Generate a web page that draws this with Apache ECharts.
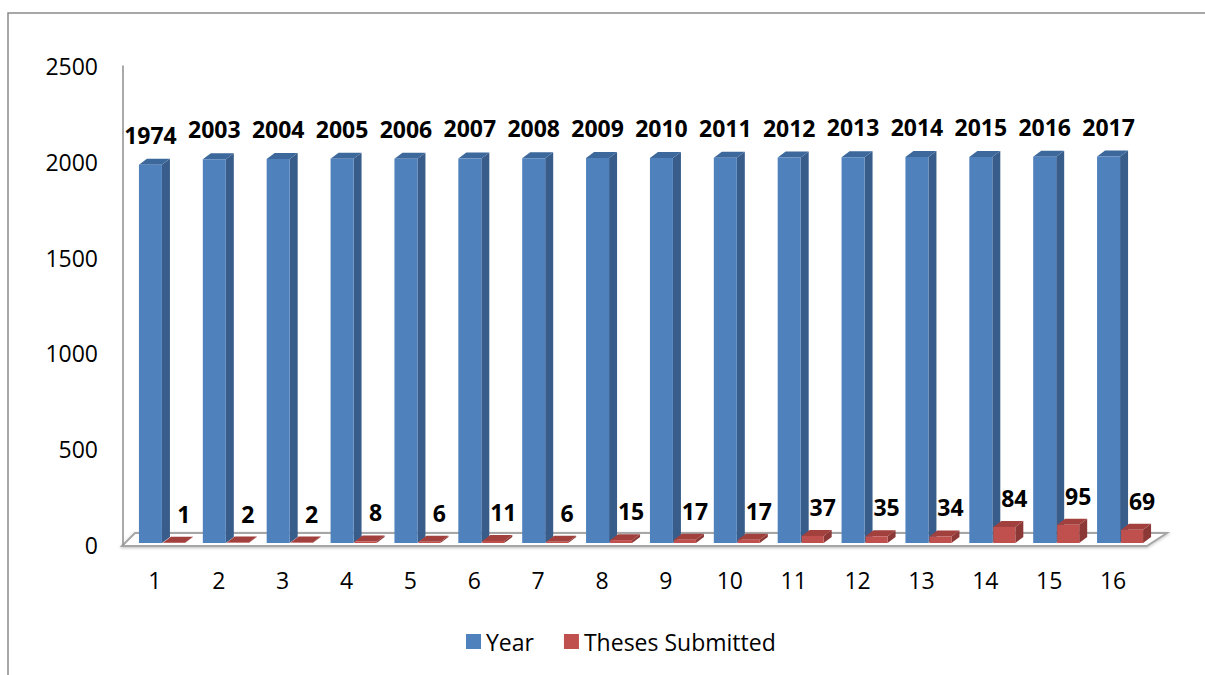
<!DOCTYPE html>
<html>
<head>
<meta charset="utf-8">
<script src="https://cdn.jsdelivr.net/npm/echarts@6/dist/echarts.min.js"></script>
<style>
html,body{margin:0;padding:0;background:#fff;}
#c{width:1205px;height:675px;}
</style>
</head>
<body>
<div id="c"></div>
<script>
const categories = ['1','2','3','4','5','6','7','8','9','10','11','12','13','14','15','16'];
const yearValues = [1974,2003,2004,2005,2006,2007,2008,2009,2010,2011,2012,2013,2014,2015,2016,2017];
const thesesValues = [1,2,2,8,6,11,6,15,17,17,37,35,34,84,95,69];
const yMin = 0, yMax = 2500, yStep = 500;

const FONT = "'Open Sans', 'Noto Sans', sans-serif";

function bar3d(front, side, top, offX, w, labelDx, labelGap) {
  return function (params, api) {
    const idx = api.value(0), v = api.value(1);
    const base = api.coord([idx, 0]);
    const tp = api.coord([idx, v]);
    const cx = base[0];
    const lift = 2;
    const xl = cx + offX, xr = xl + w;
    const yb = base[1] - lift, yt = tp[1] - lift;
    const dx = 8, dy = 6;
    return {
      type: 'group',
      children: [
        { type: 'polygon', shape: { points: [[xr, yb], [xr + dx, yb - dy], [xr + dx, yt - dy], [xr, yt]] }, style: { fill: side } },
        { type: 'polygon', shape: { points: [[xl, yt], [xl + dx, yt - dy], [xr + dx, yt - dy], [xr, yt]] }, style: { fill: top } },
        { type: 'rect', shape: { x: xl, y: yt, width: w, height: Math.max(yb - yt, 0) }, style: { fill: front } },
        { type: 'text', x: (xl + xr) / 2 + labelDx, y: yt - dy - labelGap,
          style: { text: String(v), fontSize: 23, fontWeight: 'bold', fontFamily: FONT, fill: '#000', align: 'center', verticalAlign: 'middle' } }
      ]
    };
  };
}

const chart = echarts.init(document.getElementById('c'), null, { renderer: 'svg' });
const option = {
  backgroundColor: '#fff',
  animation: false,
  grid: { left: 123, right: 60, top: 66, bottom: 130 },
  legend: {
    bottom: 17,
    left: 461,
    itemWidth: 15, itemHeight: 15, itemGap: 30,
    icon: 'rect',
    textStyle: { fontSize: 23, fontFamily: FONT, color: '#000' },
    data: ['Year', 'Theses Submitted']
  },
  xAxis: {
    type: 'category',
    data: categories,
    axisLine: { show: false },
    axisTick: { show: false },
    axisLabel: { fontSize: 23, fontFamily: FONT, color: '#000', margin: 23 }
  },
  yAxis: {
    type: 'value',
    min: yMin, max: yMax, interval: yStep,
    axisLine: { show: true, lineStyle: { color: '#8c8c8c', width: 1.5 } },
    axisTick: { show: false },
    splitLine: { show: false },
    axisLabel: { fontSize: 23, fontFamily: FONT, color: '#000', margin: 25, formatter: v => String(v) }
  },
  series: [
    {
      name: 'Year', type: 'custom', z: 3,
      itemStyle: { color: '#4f81bd' },
      encode: { x: 0, y: 1 },
      data: yearValues.map((v, i) => [i, v]),
      renderItem: bar3d('#4f81bd', '#385d8a', '#3d689b', -16, 23, 0, 24)
    },
    {
      name: 'Theses Submitted', type: 'custom', z: 3,
      itemStyle: { color: '#c0504d' },
      encode: { x: 0, y: 1 },
      data: thesesValues.map((v, i) => [i, v]),
      renderItem: bar3d('#c0504d', '#8c3836', '#a1403d', 8, 22, 10, 23)
    }
  ]
};
chart.setOption(option);

// floor (decorative 3D plane) computed from the axes
const band = chart.convertToPixel({ xAxisIndex: 0 }, 1) - chart.convertToPixel({ xAxisIndex: 0 }, 0);
const leftX = chart.convertToPixel({ xAxisIndex: 0 }, 0) - band / 2 - 1;
const rightX = chart.convertToPixel({ xAxisIndex: 0 }, categories.length - 1) + band / 2 + 2;
const y0 = chart.convertToPixel({ yAxisIndex: 0 }, 0) + 1;
chart.setOption({
  graphic: [
    { type: 'rect', z: -10, shape: { x: 8, y: 13, width: 1300, height: 800 }, style: { fill: 'none', stroke: '#8a8a8a', lineWidth: 1.5 } },
    { type: 'polygon', z: 0, shape: { points: [[leftX, y0], [rightX, y0], [rightX + 20, y0 - 13], [leftX + 13, y0 - 13]] },
      style: { fill: '#fff', stroke: '#a6a6a6', lineWidth: 2, shadowBlur: 3, shadowColor: 'rgba(0,0,0,0.25)', shadowOffsetY: 1 } }
  ]
});
</script>
</body>
</html>
